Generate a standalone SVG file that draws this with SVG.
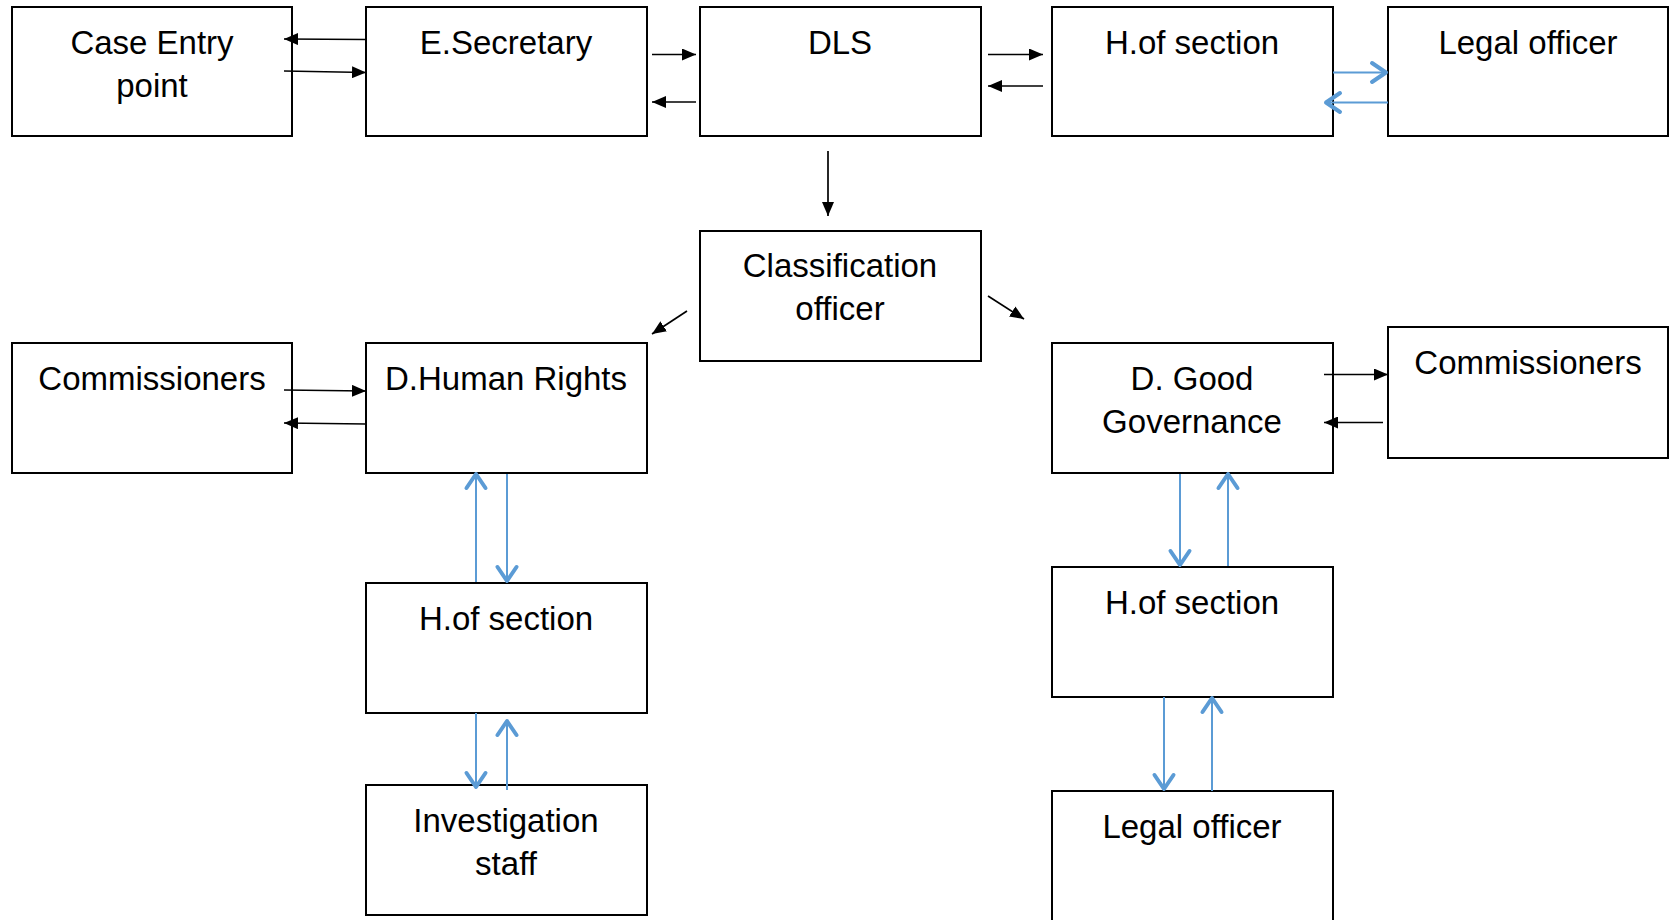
<svg xmlns="http://www.w3.org/2000/svg" width="1673" height="920" viewBox="0 0 1673 920">
<style>
.box{fill:#fff;stroke:#000;stroke-width:2}
.t{font-family:"Liberation Sans",Arial,sans-serif;font-size:33px;fill:#000;text-anchor:middle}
.blk{stroke:#000;stroke-width:1.7;fill:none;marker-end:url(#ah)}
.blu{stroke:#5B9BD5;stroke-width:2;fill:none;marker-end:url(#ob)}
</style>
<defs>
<marker id="ah" markerUnits="userSpaceOnUse" markerWidth="14" markerHeight="12" viewBox="0 0 14 12" refX="14" refY="6" orient="auto">
<path d="M0,0 L14,6 L0,12 z" fill="#000"/>
</marker>
<marker id="ob" markerUnits="userSpaceOnUse" markerWidth="22" markerHeight="26" viewBox="-19 -13 22 26" refX="0" refY="0" orient="auto">
<path d="M-14,-9.5 L0,0 L-14,9.5" fill="none" stroke="#5B9BD5" stroke-width="4" stroke-linecap="round" stroke-linejoin="round"/>
</marker>
</defs>
<rect width="1673" height="920" fill="#fff"/>
<g id="case-entry"><rect class="box" x="12" y="7" width="280" height="129"/><text class="t" x="152" y="54">Case Entry</text><text class="t" x="152" y="97">point</text></g>
<g id="e-secretary"><rect class="box" x="366" y="7" width="281" height="129"/><text class="t" x="506" y="54">E.Secretary</text></g>
<g id="dls"><rect class="box" x="700" y="7" width="281" height="129"/><text class="t" x="840" y="54">DLS</text></g>
<g id="h-section-top"><rect class="box" x="1052" y="7" width="281" height="129"/><text class="t" x="1192" y="54">H.of section</text></g>
<g id="legal-officer-top"><rect class="box" x="1388" y="7" width="280" height="129"/><text class="t" x="1528" y="54">Legal officer</text></g>
<g id="classification"><rect class="box" x="700" y="231" width="281" height="130"/><text class="t" x="840" y="277">Classification</text><text class="t" x="840" y="320">officer</text></g>
<g id="commissioners-left"><rect class="box" x="12" y="343" width="280" height="130"/><text class="t" x="152" y="390">Commissioners</text></g>
<g id="d-human-rights"><rect class="box" x="366" y="343" width="281" height="130"/><text class="t" x="506" y="390">D.Human Rights</text></g>
<g id="d-good-governance"><rect class="box" x="1052" y="343" width="281" height="130"/><text class="t" x="1192" y="390">D. Good</text><text class="t" x="1192" y="433">Governance</text></g>
<g id="commissioners-right"><rect class="box" x="1388" y="327" width="280" height="131"/><text class="t" x="1528" y="374">Commissioners</text></g>
<g id="h-section-left"><rect class="box" x="366" y="583" width="281" height="130"/><text class="t" x="506" y="630">H.of section</text></g>
<g id="investigation-staff"><rect class="box" x="366" y="785" width="281" height="130"/><text class="t" x="506" y="832">Investigation</text><text class="t" x="506" y="875">staff</text></g>
<g id="h-section-right"><rect class="box" x="1052" y="567" width="281" height="130"/><text class="t" x="1192" y="614">H.of section</text></g>
<g id="legal-officer-bottom"><rect class="box" x="1052" y="791" width="281" height="140"/><text class="t" x="1192" y="838">Legal officer</text></g>
<g id="connectors">
<path class="blk" d="M366,39.5 L284,39"/>
<path class="blk" d="M284,71 L366,72.5"/>
<path class="blk" d="M652,54.5 L696,54.5"/>
<path class="blk" d="M696,102 L652,102"/>
<path class="blk" d="M988,54.5 L1043,54.5"/>
<path class="blk" d="M1043,86 L988,86"/>
<path class="blk" d="M828,151 L828,216"/>
<path class="blk" d="M687,311 L652,334"/>
<path class="blk" d="M988,296 L1024,319"/>
<path class="blk" d="M284,390 L366,391"/>
<path class="blk" d="M366,424 L284,423"/>
<path class="blk" d="M1324,374.5 L1388,374.5"/>
<path class="blk" d="M1383,422.5 L1324,422.5"/>
<path class="blu" d="M1333,72.5 L1386,72.5"/>
<path class="blu" d="M1388,102.5 L1326,102.5"/>
<path class="blu" d="M476,582 L476,474"/>
<path class="blu" d="M507,474 L507,581"/>
<path class="blu" d="M476,713 L476,787"/>
<path class="blu" d="M507,790 L507,721"/>
<path class="blu" d="M1180,474 L1180,565"/>
<path class="blu" d="M1228,566 L1228,474"/>
<path class="blu" d="M1164,697 L1164,789"/>
<path class="blu" d="M1212,791 L1212,698"/>
</g>
</svg>
